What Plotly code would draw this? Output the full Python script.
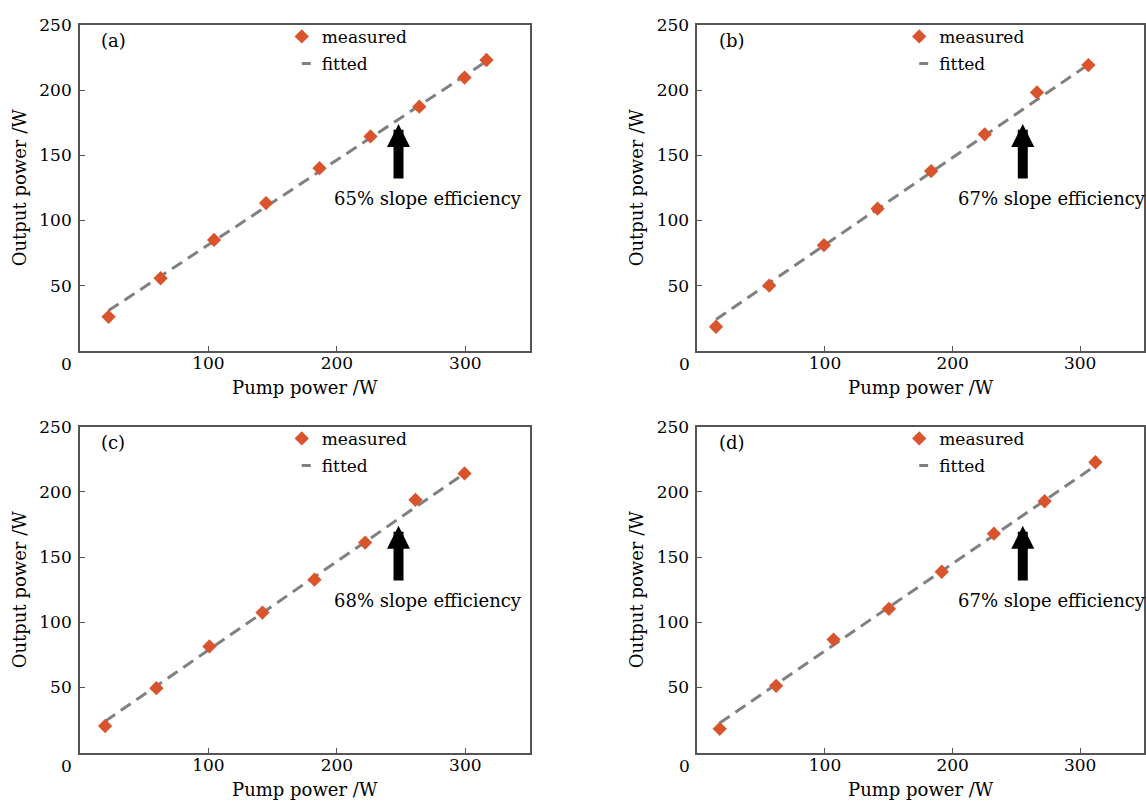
import plotly.graph_objects as go

# Measured output power vs pump power for four laser configurations
pump_a = [22.3, 62.8, 104.4, 144.9, 186.5, 226.2, 264.2, 299.4, 316.5]
out_a = [26.0, 55.6, 85.0, 113.3, 140.0, 164.4, 187.2, 209.5, 223.0]

pump_b = [14.6, 56.3, 99.2, 141.2, 183.2, 225.2, 266.1, 306.4]
out_b = [18.4, 50.0, 81.0, 109.0, 137.8, 166.0, 198.1, 219.1]

pump_c = [19.6, 59.5, 100.8, 142.1, 182.6, 222.0, 261.2, 299.4]
out_c = [20.5, 49.5, 81.5, 107.5, 132.7, 161.2, 194.0, 214.2]

pump_d = [17.5, 61.7, 106.7, 150.1, 191.5, 232.4, 272.1, 311.9]
out_d = [18.3, 51.3, 86.8, 110.4, 138.8, 168.0, 192.9, 222.8]

# Linear fits: slope efficiency and intercept (W)
fit_slope = [0.65, 0.67, 0.68, 0.67]
fit_intercept = [16.3, 14.2, 10.7, 11.1]

panel_labels = ["(a)", "(b)", "(c)", "(d)"]
efficiency_labels = ["65% slope efficiency", "67% slope efficiency",
                     "68% slope efficiency", "67% slope efficiency"]
arrow_x = [248, 255, 248, 255]

x_ticks = [100, 200, 300]
y_ticks = [50, 100, 150, 200, 250]

pumps = [pump_a, pump_b, pump_c, pump_d]
outs = [out_a, out_b, out_c, out_d]

W, H = 1146, 810
x_domains = [[80 / W, 530 / W], [698 / W, 1145 / W]]
y_domains = [[1 - 345 / H, 1 - 15 / H], [1 - 752 / H, 1 - 422 / H]]

FONT = "DejaVu Serif"
TEXT_COLOR = "#000000"
MARKER_COLOR = "#d9542c"
LINE_COLOR = "#808080"
FRAME_COLOR = "#555555"

fig = go.Figure()
layout = dict(
    width=W, height=H,
    margin=dict(l=0, r=0, t=0, b=0),
    paper_bgcolor="white", plot_bgcolor="white",
    font=dict(family=FONT, size=17, color=TEXT_COLOR),
    annotations=[],
)

for i in range(4):
    row, col = divmod(i, 2)
    n = "" if i == 0 else str(i + 1)
    xa, ya = "x" + n, "y" + n
    leg = "legend" + n

    px = pumps[i]
    x_fit = [min(px), max(px)]
    y_fit = [fit_intercept[i] + fit_slope[i] * v for v in x_fit]

    fig.add_trace(go.Scatter(
        x=x_fit, y=y_fit, mode="lines", xaxis=xa, yaxis=ya,
        line=dict(color=LINE_COLOR, width=3, dash="12px,7px"),
        showlegend=False, hoverinfo="skip"))
    fig.add_trace(go.Scatter(
        x=px, y=outs[i], mode="markers", name="measured",
        xaxis=xa, yaxis=ya, legend=leg, legendgroup="m" + n,
        marker=dict(symbol="diamond", size=11, color=MARKER_COLOR)))
    # legend key for the fitted line (single short dash)
    fig.add_trace(go.Scatter(
        x=[None], y=[None], mode="lines", name="fitted",
        xaxis=xa, yaxis=ya, legend=leg, legendgroup="f" + n,
        line=dict(color=LINE_COLOR, width=3, dash="0px,15px,9px,100px")))

    axis_common = dict(
        showline=True, mirror=True, linecolor=FRAME_COLOR, linewidth=1.6,
        ticks="inside", ticklen=5, tickwidth=1.2, tickcolor=FRAME_COLOR,
        showgrid=False, zeroline=False,
        tickfont=dict(family=FONT, size=17, color=TEXT_COLOR),
    )
    layout["xaxis" + n] = dict(
        axis_common, domain=x_domains[col], range=[0, 350],
        tickvals=x_ticks, anchor=ya, ticklabelstandoff=-4,
        title=dict(text="Pump power /W", font=dict(family=FONT, size=18),
                   standoff=9))
    layout["yaxis" + n] = dict(
        axis_common, domain=y_domains[row], range=[0, 250],
        tickvals=y_ticks, anchor=xa, ticklabelstandoff=3,
        title=dict(text="Output power /W", font=dict(family=FONT, size=18),
                   standoff=8))

    layout[leg] = dict(
        x=(x_domains[col][0] * W + 202) / W,
        y=(y_domains[row][1] * H + 6) / H,
        xanchor="left", yanchor="top",
        bgcolor="rgba(255,255,255,0)",
        font=dict(family=FONT, size=17, color=TEXT_COLOR),
        itemwidth=30, tracegroupgap=2)

    layout["annotations"] += [
        # shared origin label
        dict(x=0, y=0, xref=xa, yref=ya, text="0", showarrow=False,
             xshift=-13, yshift=-13, font=dict(family=FONT, size=17)),
        # panel tag
        dict(x=15, y=238, xref=xa, yref=ya, text=panel_labels[i],
             showarrow=False, xanchor="left", font=dict(family=FONT, size=18)),
        # arrow pointing at the fitted line
        dict(x=arrow_x[i], y=174, ax=arrow_x[i], ay=131,
             xref=xa, yref=ya, axref=xa, ayref=ya, text="",
             showarrow=True, arrowhead=2, arrowsize=0.46, arrowwidth=10,
             arrowcolor="black"),
        dict(x=arrow_x[i] + 23, y=117, xref=xa, yref=ya,
             text=efficiency_labels[i], showarrow=False,
             font=dict(family=FONT, size=18)),
    ]

fig.update_layout(**layout)
fig.write_html("out.html")
